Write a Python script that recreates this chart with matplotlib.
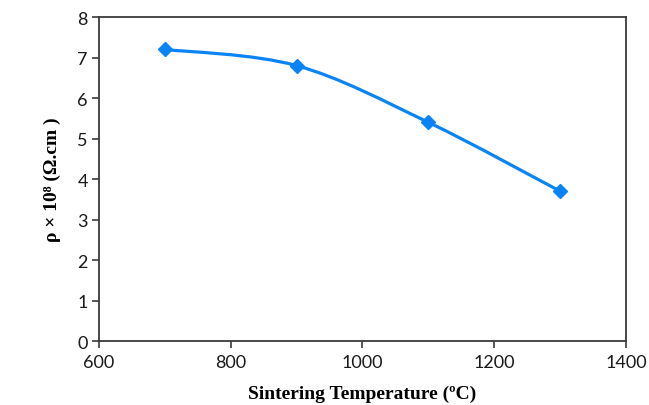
import matplotlib
matplotlib.use("Agg")
import matplotlib.pyplot as plt
from matplotlib.path import Path
from matplotlib.patches import PathPatch
import numpy as np

temperature = [700, 900, 1100, 1300]
resistivity = [7.2, 6.8, 5.4, 3.7]

x_ticks = [600, 800, 1000, 1200, 1400]
y_ticks = [0, 1, 2, 3, 4, 5, 6, 7, 8]

blue = "#0A84F5"


def smooth_path(xs, ys):
    # excel style smoothed line: bezier segments with catmull-rom control points
    pts = np.column_stack([xs, ys]).astype(float)
    n = len(pts)
    verts = [pts[0]]
    codes = [Path.MOVETO]
    for i in range(n - 1):
        p0 = pts[i - 1] if i > 0 else pts[i]
        p1 = pts[i]
        p2 = pts[i + 1]
        p3 = pts[i + 2] if i + 2 < n else pts[i + 1]
        c1 = p1 + (p2 - p0) / 6.0
        c2 = p2 - (p3 - p1) / 6.0
        verts += [c1, c2, p2]
        codes += [Path.CURVE4] * 3
    return Path(verts, codes)


fig = plt.figure(figsize=(6.49, 4.06), dpi=100)
ax = fig.add_axes([0.1525, 0.1576, 0.812, 0.798])

ax.add_patch(PathPatch(smooth_path(temperature, resistivity), facecolor="none",
                       edgecolor=blue, lw=2.3, capstyle="round"))
ax.plot(temperature, resistivity, linestyle="none", marker="D", ms=7,
        color=blue, mec=blue)

ax.set_xlim(600, 1400)
ax.set_ylim(0, 8)
ax.set_xticks(x_ticks)
ax.set_yticks(y_ticks)

for s in ax.spines.values():
    s.set_color("#3a3a3a")
    s.set_linewidth(1.3)

ax.tick_params(axis="both", direction="out", length=5, width=1.2,
               color="#3a3a3a", labelsize=13, labelcolor="#1a1a1a", pad=3)
ax.tick_params(axis="x", pad=4)
for lab in ax.get_xticklabels() + ax.get_yticklabels():
    lab.set_family(["Lato", "DejaVu Sans"])

ax.set_xlabel("Sintering Temperature (ºC)", family=["Liberation Serif", "DejaVu Serif"],
              fontweight="bold", fontsize=14, labelpad=11)
ax.set_ylabel("ρ × 10⁸ (Ω.cm )", family=["Liberation Serif", "DejaVu Serif"],
              fontweight="bold", fontsize=14, labelpad=12)

plt.savefig("out.png", dpi=100)
